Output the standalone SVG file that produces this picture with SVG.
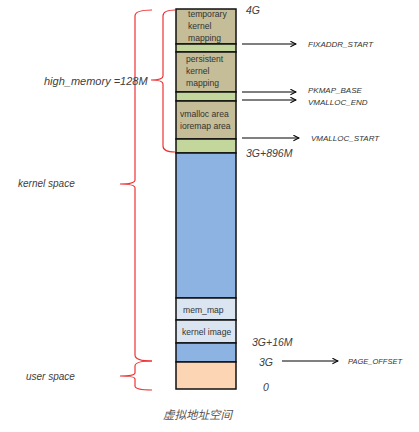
<svg xmlns="http://www.w3.org/2000/svg" width="419" height="432" viewBox="0 0 419 432">
<defs>
<marker id="ah" viewBox="0 0 10 10" refX="9" refY="5" markerWidth="7" markerHeight="7" orient="auto" markerUnits="userSpaceOnUse">
<path d="M1,1 L9,5 L1,9" fill="none" stroke="#000" stroke-width="1.5"/>
</marker>
<style>
.blk{stroke:#111;stroke-width:1.5}
.tan{fill:#c4bd97}.grn{fill:#c3d69b}.blu{fill:#8db3e2}.lbl{fill:#dbe5f1}.pch{fill:#fcd5b4}
.in{font-family:"Liberation Sans",Arial,sans-serif;font-size:8.6px;fill:#333}
.it{font-family:"Liberation Sans",Arial,sans-serif;font-style:italic;font-size:10.5px;fill:#404040}
.sm{font-family:"Liberation Sans",Arial,sans-serif;font-style:italic;font-size:8px;fill:#333}
.br{fill:none;stroke:#e33;stroke-width:1.2}
.ar{stroke:#000;stroke-width:1;marker-end:url(#ah)}
</style>
</defs>
<rect width="419" height="432" fill="#fff"/>
<g id="column">
<g id="temp"><rect class="blk tan" x="176" y="9" width="60" height="35"/><text class="in" x="188" y="17">temporary</text><text class="in" x="188" y="29">kernel</text><text class="in" x="188" y="41">mapping</text></g>
<g id="gap1"><rect class="blk grn" x="176" y="44" width="60" height="8"/></g>
<g id="persist"><rect class="blk tan" x="176" y="52" width="60" height="40"/><text class="in" x="186" y="62">persistent</text><text class="in" x="186" y="74">kernel</text><text class="in" x="186" y="86">mapping</text></g>
<g id="gap2"><rect class="blk grn" x="176" y="92" width="60" height="9"/></g>
<g id="vmalloc"><rect class="blk tan" x="176" y="101" width="60" height="38"/><text class="in" x="180" y="117">vmalloc area</text><text class="in" x="180" y="129">ioremap area</text></g>
<g id="gap3"><rect class="blk grn" x="176" y="139" width="60" height="14"/></g>
<g id="lowmem"><rect class="blk blu" x="176" y="153" width="60" height="145"/></g>
<g id="memmap"><rect class="blk lbl" x="176" y="298" width="60" height="22"/><text class="in" x="183" y="313">mem_map</text></g>
<g id="kimage"><rect class="blk lbl" x="176" y="320" width="60" height="23"/><text class="in" x="182" y="335">kernel image</text></g>
<g id="low16"><rect class="blk blu" x="176" y="343" width="60" height="19"/></g>
<g id="user"><rect class="blk pch" x="176" y="362" width="60" height="27"/></g>
</g>
<g id="connectors">
<line class="ar" x1="242" y1="44" x2="296" y2="44"/>
<line class="ar" x1="242" y1="92" x2="296" y2="92"/>
<line class="ar" x1="242" y1="100" x2="296" y2="100"/>
<line class="ar" x1="242" y1="138" x2="299" y2="138"/>
<line class="ar" x1="282" y1="361" x2="338" y2="361"/>
</g>
<g id="braces">
<path class="br" d="M175,10 Q163,10 163,16 L163,76 Q163,80 151,80 Q163,80 163,84 L163,146 Q163,152 175,152"/>
<path class="br" d="M152,10 Q135,10 135,16 L135,180 Q135,184 120,184 Q135,184 135,188 L135,355 Q135,361 152,361"/>
<path class="br" d="M152,361 Q135,361 135,366 L135,373 Q135,376 120,376 Q135,376 135,379 L135,386 Q135,390 152,390"/>
</g>
<g id="labels">
<text class="it" x="246" y="14">4G</text>
<text class="sm" x="308" y="47">FIXADDR_START</text>
<text class="sm" x="308" y="93">PKMAP_BASE</text>
<text class="sm" x="308" y="105">VMALLOC_END</text>
<text class="sm" x="311" y="141">VMALLOC_START</text>
<text class="it" x="246" y="157">3G+896M</text>
<text class="it" x="252" y="346">3G+16M</text>
<text class="it" x="259" y="366">3G</text>
<text class="sm" x="348" y="364" style="font-size:7.5px">PAGE_OFFSET</text>
<text class="it" x="263" y="391">0</text>
<text class="it" x="44" y="85" style="font-size:11px">high_memory =128M</text>
<text class="it" x="18" y="187" style="font-size:10px">kernel space</text>
<text class="it" x="26" y="380" style="font-size:10px">user space</text>
<text class="it" x="163" y="419" style="fill:#555;font-size:11.5px;font-family:'Liberation Sans','Noto Sans CJK SC',sans-serif">虚拟地址空间</text>
</g>
</svg>
